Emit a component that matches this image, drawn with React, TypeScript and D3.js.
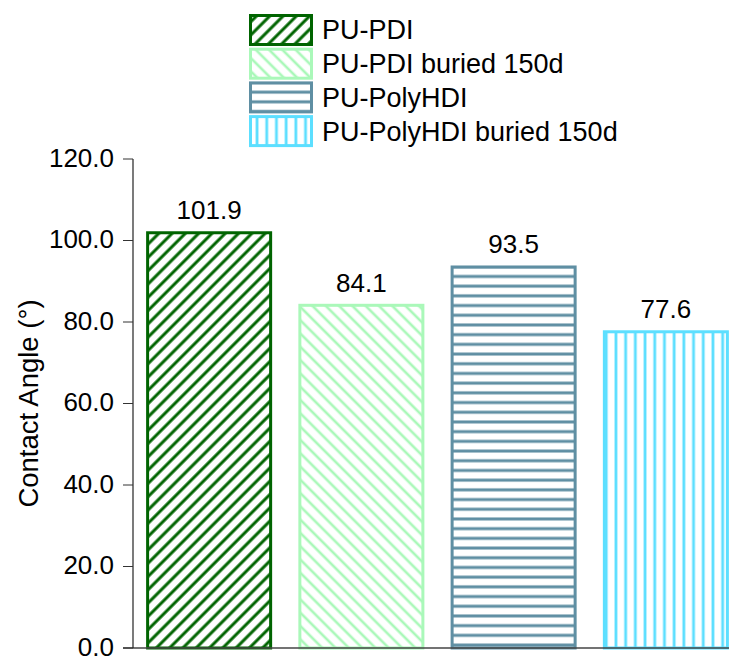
import React from "react";
import * as d3 from "d3";

const categories = ["PU-PDI", "PU-PDI buried 150d", "PU-PolyHDI", "PU-PolyHDI buried 150d"];
const values = [101.9, 84.1, 93.5, 77.6];
const colors = ["#006400", "#aaf8b9", "#5f8fa3", "#5cdfff"];
const patternIds = ["hatchFwd", "hatchBack", "hatchHoriz", "hatchVert"];
const yTicks = [0, 20, 40, 60, 80, 100, 120];
const yLabel = "Contact Angle (°)";

const W = 729;
const H = 656;
const font = "Arial, 'Liberation Sans', sans-serif";

export default function App() {
  const x = d3
    .scaleBand<string>()
    .domain(categories)
    .range([133, 742])
    .paddingInner(0.192)
    .paddingOuter(0.096);
  const y = d3.scaleLinear().domain([0, 120]).range([648, 159]);
  const fmt = d3.format(".1f");

  const patterns = [
    { id: patternIds[0], rot: 45, size: 9.4, sw: 3, color: colors[0] },
    { id: patternIds[1], rot: -45, size: 9.4, sw: 2.6, color: colors[1] },
    { id: patternIds[2], rot: 90, size: 9.7, sw: 3, color: colors[2] },
    { id: patternIds[3], rot: 0, size: 9.7, sw: 2.8, color: colors[3] },
  ];

  const legendX = 249;
  const legendY0 = 14;
  const rowH = 33.7;

  return (
    <svg
      width={W}
      height={H}
      style={{ position: "absolute", left: 0, top: 0, background: "#fff" }}
      fontFamily={font}
    >
      <defs>
        {patterns.map((p) => (
          <pattern
            key={p.id}
            id={p.id}
            patternUnits="userSpaceOnUse"
            width={p.size}
            height={p.size}
            patternTransform={`rotate(${p.rot})`}
          >
            <rect width={p.size} height={p.size} fill="#fff" />
            <line
              x1={p.size / 2}
              y1={-1}
              x2={p.size / 2}
              y2={p.size + 1}
              stroke={p.color}
              strokeWidth={p.sw}
            />
          </pattern>
        ))}
      </defs>

      {/* bars */}
      {categories.map((c, i) => (
        <g key={c}>
          <rect
            x={x(c)!}
            y={y(values[i])}
            width={x.bandwidth()}
            height={y(0) - y(values[i])}
            fill={`url(#${patternIds[i]})`}
            stroke={colors[i]}
            strokeWidth={3}
          />
          <text
            x={x(c)! + x.bandwidth() / 2}
            y={y(values[i]) - 13.5}
            textAnchor="middle"
            fontSize={26}
            fill="#000"
          >
            {fmt(values[i])}
          </text>
        </g>
      ))}

      {/* x axis line */}
      <line x1={123} x2={W} y1={y(0)} y2={y(0)} stroke="#444" strokeWidth={1.5} />

      {/* y axis */}
      <line x1={133} x2={133} y1={y(120)} y2={y(0)} stroke="#222" strokeWidth={1.2} />
      {yTicks.map((t) => (
        <g key={t}>
          <line x1={123} x2={133} y1={y(t)} y2={y(t)} stroke="#333" strokeWidth={1} />
          <text
            x={114}
            y={y(t)}
            dy="0.3em"
            textAnchor="end"
            fontSize={26}
            fill="#000"
          >
            {fmt(t)}
          </text>
        </g>
      ))}
      <text
        transform={`translate(37.5, ${(y(0) + y(120)) / 2}) rotate(-90)`}
        textAnchor="middle"
        fontSize={27.5}
        fill="#000"
      >
        {yLabel}
      </text>

      {/* legend */}
      {categories.map((c, i) => {
        const top = legendY0 + i * rowH;
        return (
          <g key={`lg-${c}`}>
            <rect
              x={legendX + 1.5}
              y={top + 1.5}
              width={61}
              height={29}
              fill={`url(#${patternIds[i]})`}
              stroke={colors[i]}
              strokeWidth={3}
            />
            <text x={322} y={top + 16} dy="0.35em" fontSize={27} fill="#000">
              {c}
            </text>
          </g>
        );
      })}
    </svg>
  );
}
